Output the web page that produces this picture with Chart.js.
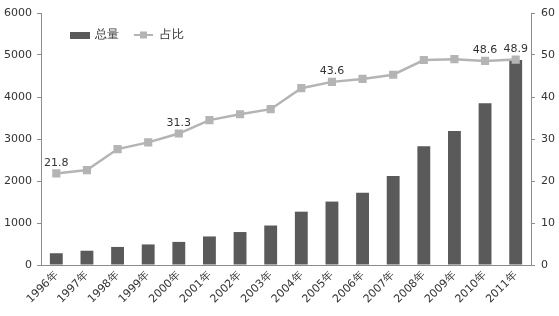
<!DOCTYPE html>
<html>
<head>
<meta charset="utf-8">
<script src="https://cdn.jsdelivr.net/npm/chart.js@4"></script>
<style>
  html, body { margin: 0; padding: 0; background: #fff; }
  #wrap { width: 559px; height: 316px; }
</style>
</head>
<body>
<div id="wrap"><canvas id="chart" width="559" height="316"></canvas></div>
<script>
// values
const years = ["1996年", "1997年", "1998年", "1999年", "2000年", "2001年", "2002年", "2003年",
  "2004年", "2005年", "2006年", "2007年", "2008年", "2009年", "2010年", "2011年"];
const totals = [280, 340, 430, 490, 550, 680, 785, 940, 1270, 1510, 1720, 2120, 2830, 3190, 3850, 4880];
const shares = [21.8, 22.6, 27.6, 29.2, 31.3, 34.5, 35.9, 37.1, 42.1, 43.6, 44.3, 45.3, 48.8, 49.0, 48.6, 48.9];
const labelledYears = ["1996年", "2000年", "2005年", "2010年", "2011年"];
const leftTicks = [0, 1000, 2000, 3000, 4000, 5000, 6000];
const rightTicks = [0, 10, 20, 30, 40, 50, 60];

const COLORS = {
  bar: "#5a5a5a",
  line: "#b4b4b4",
  text: "#333333",
  axis: "#8c8c8c",
};
const FONT = "'DejaVu Sans', sans-serif";

// point labels above a few of the line points
const pointLabels = {
  id: "pointLabels",
  afterDatasetsDraw(chart) {
    const meta = chart.getDatasetMeta(0);
    const ctx = chart.ctx;
    ctx.save();
    ctx.font = "11px " + FONT;
    ctx.fillStyle = COLORS.text;
    ctx.textAlign = "center";
    ctx.textBaseline = "bottom";
    meta.data.forEach((pt, i) => {
      if (!labelledYears.includes(years[i])) return;
      ctx.fillText(shares[i].toFixed(1), pt.x, pt.y - 5);
    });
    ctx.restore();
  },
};

// legend drawn inside the plot, top left
const innerLegend = {
  id: "innerLegend",
  afterDraw(chart) {
    const ctx = chart.ctx;
    const a = chart.chartArea;
    const y = a.top + 22;
    ctx.save();
    ctx.fillStyle = COLORS.bar;
    ctx.fillRect(a.left + 29, y - 3, 20, 7);
    ctx.font = "12px " + FONT;
    ctx.fillStyle = COLORS.text;
    ctx.textBaseline = "middle";
    ctx.fillText("总量", a.left + 54, y);
    ctx.strokeStyle = COLORS.line;
    ctx.lineWidth = 2;
    ctx.beginPath();
    ctx.moveTo(a.left + 93, y);
    ctx.lineTo(a.left + 112, y);
    ctx.stroke();
    ctx.fillStyle = COLORS.line;
    ctx.fillRect(a.left + 99, y - 3.5, 7, 7);
    ctx.fillStyle = COLORS.text;
    ctx.fillText("占比", a.left + 119, y);
    ctx.restore();
  },
};

new Chart(document.getElementById("chart"), {
  data: {
    labels: years,
    datasets: [
      {
        type: "line",
        label: "占比",
        data: shares,
        yAxisID: "y1",
        borderColor: COLORS.line,
        borderWidth: 2.5,
        pointStyle: "rect",
        pointRadius: 4,
        pointBackgroundColor: COLORS.line,
        pointBorderColor: COLORS.line,
        tension: 0,
        order: 0,
      },
      {
        type: "bar",
        label: "总量",
        data: totals,
        yAxisID: "y",
        backgroundColor: COLORS.bar,
        barPercentage: 0.42,
        categoryPercentage: 1,
        order: 1,
      },
    ],
  },
  options: {
    responsive: false,
    animation: false,
    layout: { padding: { top: 13, left: 0, right: 0, bottom: 0 } },
    plugins: { legend: { display: false }, tooltip: { enabled: false } },
    scales: {
      x: {
        offset: true,
        grid: { display: false, drawTicks: true, tickLength: 4, color: COLORS.axis },
        border: { color: COLORS.axis, dash: [1, 2] },
        ticks: {
          color: COLORS.text,
          font: { family: FONT, size: 11 },
          maxRotation: 45,
          minRotation: 45,
          autoSkip: false,
          padding: 0,
        },
        afterFit(s) { s.height = 51; },
      },
      y: {
        position: "left",
        min: 0,
        max: 6000,
        afterBuildTicks(s) { s.ticks = leftTicks.map(v => ({ value: v })); },
        grid: { drawOnChartArea: false, tickLength: 4, color: COLORS.axis },
        border: { color: COLORS.axis, width: 1 },
        ticks: {
          color: COLORS.text,
          font: { family: FONT, size: 11 },
          padding: 5,
          callback: v => String(v),
        },
        afterFit(s) { s.width = 41; },
      },
      y1: {
        position: "right",
        min: 0,
        max: 60,
        afterBuildTicks(s) { s.ticks = rightTicks.map(v => ({ value: v })); },
        grid: { drawOnChartArea: false, tickLength: 4, color: COLORS.axis },
        border: { color: COLORS.axis, dash: [4, 3] },
        ticks: {
          color: COLORS.text,
          font: { family: FONT, size: 11 },
          padding: 6,
          callback: v => String(v),
        },
        afterFit(s) { s.width = 28; },
      },
    },
  },
  plugins: [pointLabels, innerLegend],
});
</script>
</body>
</html>
